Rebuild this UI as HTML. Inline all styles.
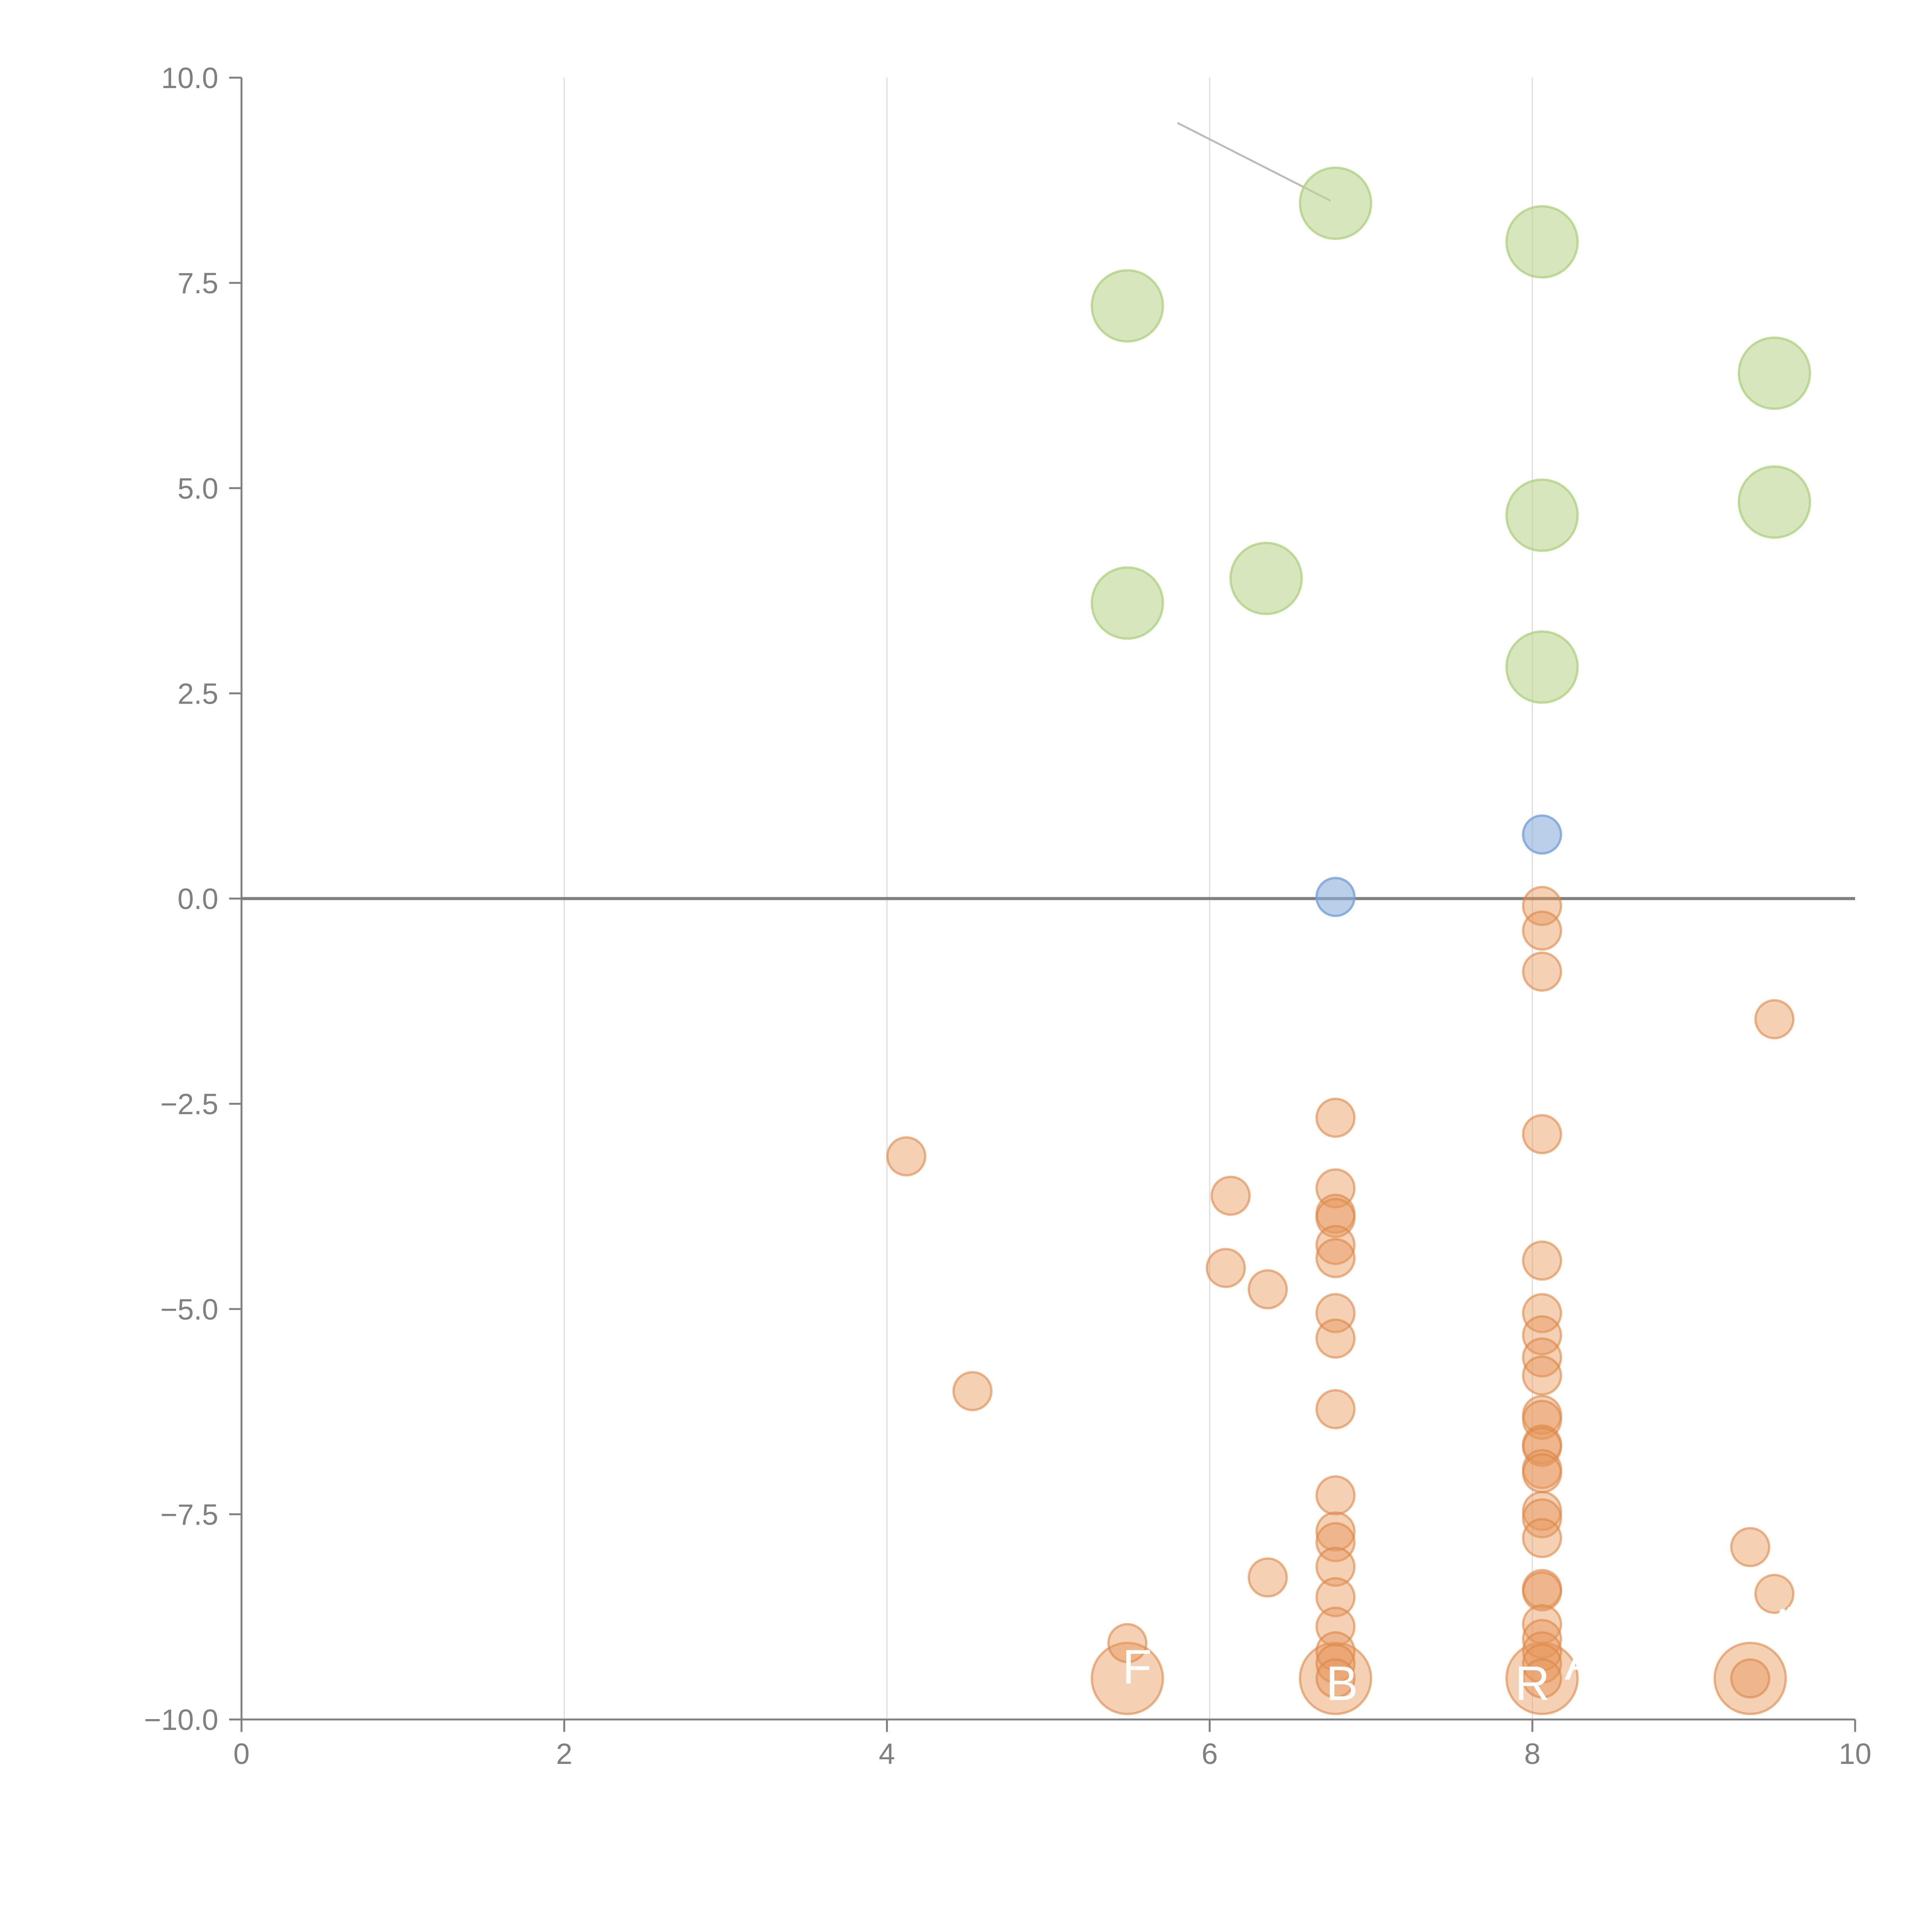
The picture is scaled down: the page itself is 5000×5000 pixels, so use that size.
<!DOCTYPE html>
<html><head><meta charset="utf-8"><style>
html,body{margin:0;padding:0;background:#fff;}
svg{display:block;font-family:"Liberation Sans",Arial,sans-serif;}
</style></head><body>
<svg id="chart" width="5000" height="5000" viewBox="0 0 5000 5000" xmlns="http://www.w3.org/2000/svg">
<g id="grid"></g>
<g id="marks"></g>
<g id="axes"></g>
<g id="labels"></g>
</svg>
<script>
const xTicks = [0, 2, 4, 6, 8, 10];
const yTicks = [10, 7.5, 5, 2.5, 0, -2.5, -5, -7.5, -10];
const yTickLabels = ["10.0", "7.5", "5.0", "2.5", "0.0", "\u22122.5", "\u22125.0", "\u22127.5", "\u221210.0"];
const greenX = [6.78, 8.06, 5.49, 9.5, 9.5, 8.06, 6.35, 5.49, 8.06];
const greenY = [8.47, 8.0, 7.22, 6.4, 4.83, 4.67, 3.9, 3.6, 2.82];
const blueX = [8.06, 6.78];
const blueY = [0.78, 0.02];
const orangeX = [8.06,8.06,8.06,8.06,8.06,8.06,8.06,8.06,8.06,8.06,8.06,8.06,8.06,8.06,8.06,8.06,8.06,8.06,8.06,8.06,8.06,8.06,8.06,8.06,8.06,
 6.78,6.78,6.78,6.78,6.78,6.78,6.78,6.78,6.78,6.78,6.78,6.78,6.78,6.78,6.78,6.78,6.78,6.78,
 4.12,6.13,6.1,6.36,4.53,6.36,9.35,9.5,9.5,5.49,9.35];
const orangeY = [-0.09,-0.39,-0.89,-2.87,-4.41,-5.05,-5.32,-5.59,-5.81,-6.29,-6.35,-6.65,-6.68,-6.95,-7.0,-7.46,-7.55,-7.79,-8.41,-8.44,-8.84,-9.02,-9.17,-9.32,-9.5,
 -2.67,-3.53,-3.84,-3.89,-4.22,-4.38,-5.05,-5.36,-6.22,-7.27,-7.71,-7.84,-8.14,-8.51,-8.87,-9.17,-9.32,-9.5,
 -3.14,-3.62,-4.5,-4.76,-6.0,-8.27,-7.9,-8.47,-1.47,-9.07,-9.5];
const bigOrangeX = [5.49, 6.78, 8.06, 9.35];
const bigOrangeY = [-9.5, -9.5, -9.5, -9.5];
const labelText = ["F", "B", "R", "A", "Vi"];
const labelX = [5.55, 6.82, 8.0, 8.3, 9.5];
const labelY = [-9.35, -9.55, -9.55, -9.3, -8.85];

const NS = "http://www.w3.org/2000/svg";
const X0 = 625, X1 = 4801, Y0 = 4450, Y1 = 201;
function sx(v){ return X0 + (v - 0) / 10 * (X1 - X0); }
function sy(v){ return Y0 - (v + 10) / 20 * (Y0 - Y1); }
function mk(tag, attrs, parent){ const e = document.createElementNS(NS, tag); for (const k in attrs) e.setAttribute(k, attrs[k]); parent.appendChild(e); return e; }
const grid = document.getElementById('grid'), marks = document.getElementById('marks'), axes = document.getElementById('axes'), labels = document.getElementById('labels');

xTicks.forEach(t => {
  if (t > 0 && t < 10) {
    const g = mk('line', {x1: sx(t), x2: sx(t), y1: Y1, y2: Y0, stroke: '#dcdcdc', 'stroke-width': 3}, grid);
    
    
  }
});
const ann = mk('line', {x1: sx(5.8), y1: sy(9.45), x2: sx(6.75), y2: sy(8.5), stroke: '#bbbbbb', 'stroke-width': 5}, grid);


const zl = mk('line', {x1: X0, x2: X1, y1: sy(0), y2: sy(0), stroke: '#808080', 'stroke-width': 8}, grid);



function bubbles(xs, ys, r, fill, stroke, name){
  xs.forEach((x, i) => {
    const c = mk('circle', {cx: sx(x), cy: sy(ys[i]), r: r, fill: fill, stroke: stroke, 'stroke-width': 6}, marks);
    
    
  });
}
bubbles(greenX, greenY, 92, 'rgba(190,214,145,0.6)', 'rgba(170,205,120,0.7)', 'green-bubble');
bubbles(bigOrangeX, bigOrangeY, 92, 'rgba(230,150,90,0.45)', 'rgba(220,135,70,0.6)', 'large-orange-bubble');
bubbles(orangeX, orangeY, 49, 'rgba(230,150,90,0.45)', 'rgba(220,135,70,0.6)', 'orange-bubble');
bubbles(blueX, blueY, 49, 'rgba(140,175,220,0.6)', 'rgba(120,160,215,0.8)', 'blue-bubble');

const ly = mk('line', {x1: X0, x2: X0, y1: Y1, y2: Y0, stroke: '#808080', 'stroke-width': 5}, axes);


const lx = mk('line', {x1: X0, x2: X1, y1: Y0, y2: Y0, stroke: '#808080', 'stroke-width': 5}, axes);


xTicks.forEach(t => {
  const tk = mk('line', {x1: sx(t), x2: sx(t), y1: Y0, y2: Y0 + 32, stroke: '#808080', 'stroke-width': 5}, axes);
  
  
  const tx = mk('text', {x: sx(t), y: Y0 + 115, 'text-anchor': 'middle', 'font-size': 76, fill: '#808080'}, axes);
  tx.textContent = String(t);
  
  
});
yTicks.forEach((t, i) => {
  const tk = mk('line', {x1: X0 - 32, x2: X0, y1: sy(t), y2: sy(t), stroke: '#808080', 'stroke-width': 5}, axes);
  
  
  const tx = mk('text', {x: X0 - 60, y: sy(t) + 27, 'text-anchor': 'end', 'font-size': 76, fill: '#808080'}, axes);
  tx.textContent = yTickLabels[i];
  
  
});
labelText.forEach((s, i) => {
  const tx = mk('text', {x: sx(labelX[i]), y: sy(labelY[i]) + 45, 'text-anchor': 'middle', 'font-size': 125, fill: '#ffffff'}, labels);
  tx.textContent = s;
  
  
});
</script>
</body></html>
